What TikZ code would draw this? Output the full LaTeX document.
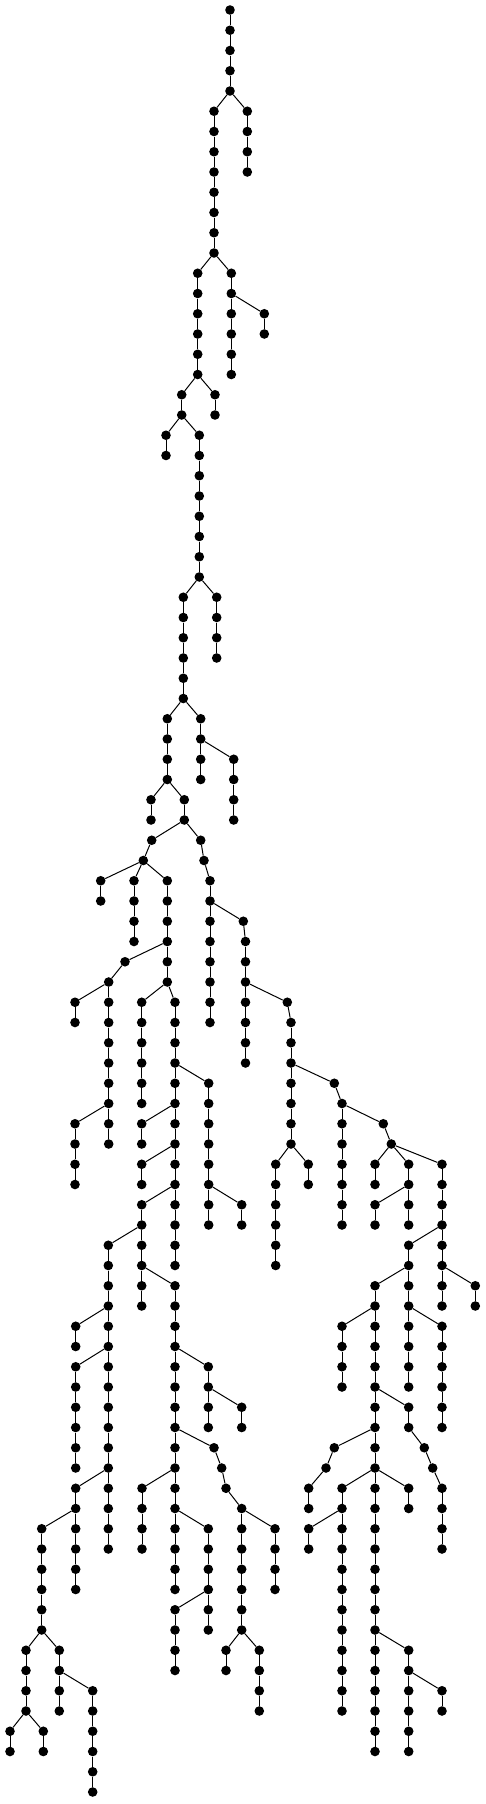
\documentclass[tikz,border=0pt]{standalone}
\tikzset{dot/.style={circle,fill=black,draw=none,inner sep=0pt,minimum size=9.6pt},
  edge/.style={line width=1pt,black}}
\newcommand\tseg[5]{%
  \foreach \l in {#3,...,#4}{\node[dot] (#1-\l) at (#2,{-(10+20.25*\l)}) {};}%
  \ifx\relax#5\relax\else\draw[edge] (#5) -- (#1-#3);\fi
  \ifnum#4>#3\relax
    \pgfmathtruncatemacro\tsegstart{#3+1}%
    \foreach \l in {\tsegstart,...,#4}{\pgfmathtruncatemacro\tlp{\l-1}\draw[edge] (#1-\tlp) -- (#1-\l);}%
  \fi}
\begin{document}
\begin{tikzpicture}[x=1pt,y=1pt]
\useasboundingbox (0,0) rectangle (486,-1804);
\tseg{A}{230}{0}{4}{}
\tseg{B}{247.3}{5}{8}{A-4}
\tseg{C}{214}{5}{12}{A-4}
\tseg{D}{231.3}{13}{18}{C-12}
\tseg{E}{264.3}{15}{16}{D-14}
\tseg{F}{197.7}{13}{18}{C-12}
\tseg{G}{215}{19}{20}{F-18}
\tseg{H}{181.7}{19}{20}{F-18}
\tseg{I}{166}{21}{22}{H-20}
\tseg{J}{199.3}{21}{28}{H-20}
\tseg{K}{216.7}{29}{32}{J-28}
\tseg{M}{183.3}{29}{34}{J-28}
\tseg{N}{200.7}{35}{38}{M-34}
\tseg{O}{233.7}{37}{40}{N-36}
\tseg{P}{167.3}{35}{38}{M-34}
\tseg{Q}{151}{39}{40}{P-38}
\tseg{R}{184.3}{39}{40}{P-38}
\tseg{S}{151.7}{41}{41}{R-40}
\tseg{SS}{143.3}{42}{42}{S-41}
\tseg{TA}{200.7}{41}{41}{R-40}
\tseg{TB}{204}{42}{42}{TA-41}
\tseg{TC}{210}{43}{50}{TB-42}
\tseg{U}{100.7}{43}{44}{SS-42}
\tseg{V}{134}{43}{46}{SS-42}
\tseg{W}{167.3}{43}{48}{SS-42}
\tseg{XA}{125}{47}{47}{W-46}
\tseg{XB}{108.7}{48}{48}{XA-47}
\tseg{Y}{75}{49}{50}{XB-48}
\tseg{Z}{108.7}{49}{56}{XB-48}
\tseg{AA}{75}{55}{58}{Z-54}
\tseg{AB}{141.7}{49}{54}{W-48}
\tseg{AC}{175}{49}{62}{W-48}
\tseg{AD}{208.7}{53}{60}{AC-52}
\tseg{AE}{241.7}{59}{60}{AD-58}
\tseg{AF}{141.7}{55}{56}{AC-54}
\tseg{AG}{141.7}{57}{58}{AC-56}
\tseg{AH}{141.7}{59}{64}{AC-58}
\tseg{AI}{108.3}{61}{76}{AH-60}
\tseg{AJ}{75.7}{65}{66}{AI-64}
\tseg{AK}{75.7}{67}{72}{AI-66}
\tseg{AL}{75.7}{73}{78}{AI-72}
\tseg{AM}{41.7}{75}{80}{AL-74}
\tseg{AN}{26}{81}{84}{AM-80}
\tseg{AO}{10}{85}{86}{AN-84}
\tseg{AP}{43.3}{85}{86}{AN-84}
\tseg{AQ}{59.3}{81}{84}{AM-80}
\tseg{AR}{92.7}{83}{88}{AQ-82}
\tseg{AS}{175}{63}{78}{AH-62}
\tseg{AT}{208.3}{67}{70}{AS-66}
\tseg{AU}{241.7}{69}{70}{AT-68}
\tseg{VA}{214}{71}{71}{AS-70}
\tseg{VB}{221.7}{72}{72}{VA-71}
\tseg{VC}{226}{73}{73}{VB-72}
\tseg{VD}{241.7}{74}{80}{VC-73}
\tseg{AW}{275}{75}{78}{VD-74}
\tseg{AX}{226}{81}{82}{VD-80}
\tseg{AY}{259.3}{81}{84}{VD-80}
\tseg{AZ}{142}{73}{76}{AS-72}
\tseg{BA}{208.3}{75}{80}{AS-74}
\tseg{BB}{175}{79}{82}{BA-78}
\tseg{CA}{243.3}{45}{45}{TC-44}
\tseg{CB}{245.5}{46}{52}{CA-45}
\tseg{DA}{287.3}{49}{49}{CB-48}
\tseg{DB}{291}{50}{56}{DA-49}
\tseg{EA}{334.3}{53}{53}{DB-52}
\tseg{EB}{342}{54}{60}{EA-53}
\tseg{FA}{383.3}{55}{55}{EB-54}
\tseg{FB}{391.3}{56}{56}{FA-55}
\tseg{BG}{375}{57}{58}{FB-56}
\tseg{BH}{408.7}{57}{60}{FB-56}
\tseg{BI}{375}{59}{60}{BH-58}
\tseg{BJ}{442}{57}{64}{FB-56}
\tseg{BK}{408.7}{61}{68}{BJ-60}
\tseg{BL}{375}{63}{86}{BK-62}
\tseg{BM}{342}{65}{68}{BL-64}
\tseg{NA}{408.7}{69}{70}{BL-68}
\tseg{NB}{424.3}{71}{71}{NA-70}
\tseg{NC}{432.7}{72}{72}{NB-71}
\tseg{ND}{442}{73}{76}{NC-72}
\tseg{OA}{334.3}{71}{71}{BL-70}
\tseg{OB}{326}{72}{72}{OA-71}
\tseg{OC}{308.7}{73}{74}{OB-72}
\tseg{BP}{342}{73}{84}{BL-72}
\tseg{BQ}{308.7}{75}{76}{BP-74}
\tseg{BR}{408.7}{73}{74}{BL-72}
\tseg{BS}{408.7}{81}{86}{BL-80}
\tseg{BT}{442}{83}{84}{BS-82}
\tseg{BU}{442}{65}{70}{BK-64}
\tseg{BV}{475.3}{63}{64}{BJ-62}
\tseg{BW}{275.7}{57}{62}{DB-56}
\tseg{BX}{308.3}{57}{58}{DB-56}
\end{tikzpicture}
\end{document}
